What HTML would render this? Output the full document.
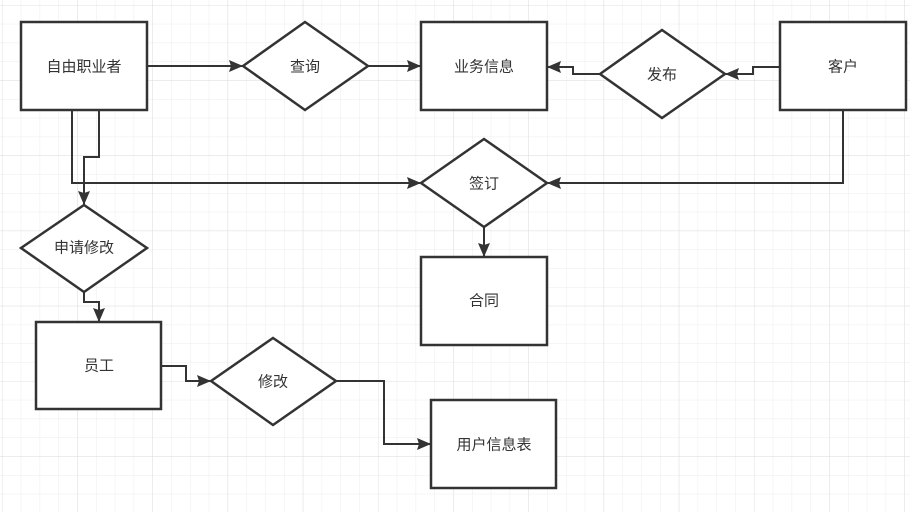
<!DOCTYPE html>
<html><head><meta charset="utf-8"><style>
html,body{margin:0;padding:0;background:#fff;}
svg{display:block;}
text{font-family:"Liberation Sans","Noto Sans CJK SC",sans-serif;font-size:15px;fill:#333;text-anchor:middle;dominant-baseline:central;}
</style></head><body>
<svg width="910" height="512" viewBox="0 0 910 512" xmlns="http://www.w3.org/2000/svg">
<defs>
<pattern id="g" x="2" y="5" width="18.8" height="18.8" patternUnits="userSpaceOnUse">
<path d="M0 0H18.8M0 0V18.8" stroke="#ececec" stroke-width="1" fill="none"/>
</pattern>
<pattern id="G" x="2" y="5" width="75.2" height="75.2" patternUnits="userSpaceOnUse">
<path d="M0 0H75.2M0 0V75.2" stroke="#e0e0e0" stroke-width="1" fill="none"/>
</pattern>
<marker id="a" markerWidth="14" markerHeight="12" refX="13" refY="6" orient="auto" markerUnits="userSpaceOnUse">
<path d="M0,0 L14,6 L0,12 L2,6 Z" fill="#333"/>
</marker>
</defs>
<rect width="910" height="512" fill="url(#g)"/>
<rect width="910" height="512" fill="url(#G)"/>
<g stroke="#333" stroke-width="2" fill="none">
<path d="M148 66H242" marker-end="url(#a)"/>
<path d="M368 66H420" marker-end="url(#a)"/>
<path d="M780 67H753V74H726" marker-end="url(#a)"/>
<path d="M600 74H573V67H548" marker-end="url(#a)"/>
<path d="M843 110V183H548" marker-end="url(#a)"/>
<path d="M72 110V183H420" marker-end="url(#a)"/>
<path d="M99 110V157H84V204" marker-end="url(#a)"/>
<path d="M484 227V256" marker-end="url(#a)"/>
<path d="M84 292V302H99V321" marker-end="url(#a)"/>
<path d="M161 366H186V381H210" marker-end="url(#a)"/>
<path d="M336 381H384V444H430" marker-end="url(#a)"/>
</g>
<g stroke="#333" stroke-width="2.5" fill="#fff">
<rect x="21" y="22" width="126" height="88"/>
<polygon points="243,66 305,22 368,66 305,110"/>
<rect x="421" y="22" width="126" height="88"/>
<polygon points="600,74 662,30 725,74 662,118"/>
<rect x="780" y="22" width="126" height="88"/>
<polygon points="421,183 484,139 547,183 484,227"/>
<rect x="421" y="257" width="126" height="88"/>
<polygon points="21,248 84,205 147,248 84,292"/>
<rect x="36" y="322" width="125" height="87"/>
<polygon points="211,381 273,338 336,381 273,425"/>
<rect x="431" y="400" width="125" height="88"/>
</g>
<text x="84" y="67">自由职业者</text>
<text x="305" y="67">查询</text>
<text x="484" y="67">业务信息</text>
<text x="662" y="75">发布</text>
<text x="843" y="67">客户</text>
<text x="484" y="184">签订</text>
<text x="484" y="301">合同</text>
<text x="84" y="248">申请修改</text>
<text x="99" y="366">员工</text>
<text x="273" y="382">修改</text>
<text x="494" y="445">用户信息表</text>
</svg>
</body></html>
